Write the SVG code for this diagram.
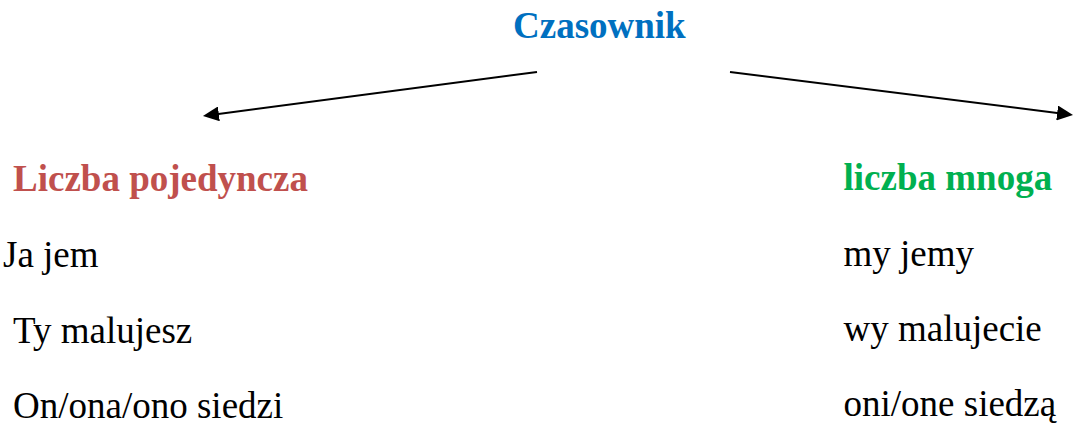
<svg xmlns="http://www.w3.org/2000/svg" width="1073" height="425" viewBox="0 0 1073 425">
<style>
text { font-family: "Liberation Serif", "Times New Roman", serif; font-size: 37px; }
.b { font-weight: bold; }
.blue { fill: #0070C0; }
.red { fill: #C0504D; }
.green { fill: #00B050; }
.k { fill: #000000; }
.conn { stroke: #000000; stroke-width: 2; fill: none; marker-end: url(#arr); }
</style>
<defs>
<marker id="arr" markerUnits="userSpaceOnUse" markerWidth="16" markerHeight="15" refX="8" refY="7.5" orient="auto" viewBox="0 0 16 15">
<path d="M0,0 L16,7.5 L0,15 z" fill="#000000"/>
</marker>
</defs>
<rect width="1073" height="425" fill="#ffffff"/>
<g id="connectors">
<line class="conn" x1="537" y1="72" x2="210.9" y2="114.96"/>
<line class="conn" x1="730" y1="72" x2="1065.1" y2="114"/>
</g>
<g id="node-czasownik"><text class="b blue" x="513" y="38">Czasownik</text></g>
<g id="node-pojedyncza">
<text class="b red" x="13" y="191">Liczba pojedyncza</text>
<text class="k" x="3" y="266.5">Ja jem</text>
<text class="k" x="13" y="342.5">Ty malujesz</text>
<text class="k" x="13" y="418">On/ona/ono siedzi</text>
</g>
<g id="node-mnoga">
<text class="b green" x="843.5" y="190">liczba mnoga</text>
<text class="k" x="843.5" y="265.5">my jemy</text>
<text class="k" x="843.5" y="341">wy malujecie</text>
<text class="k" x="843.5" y="416">oni/one siedzą</text>
</g>
</svg>
